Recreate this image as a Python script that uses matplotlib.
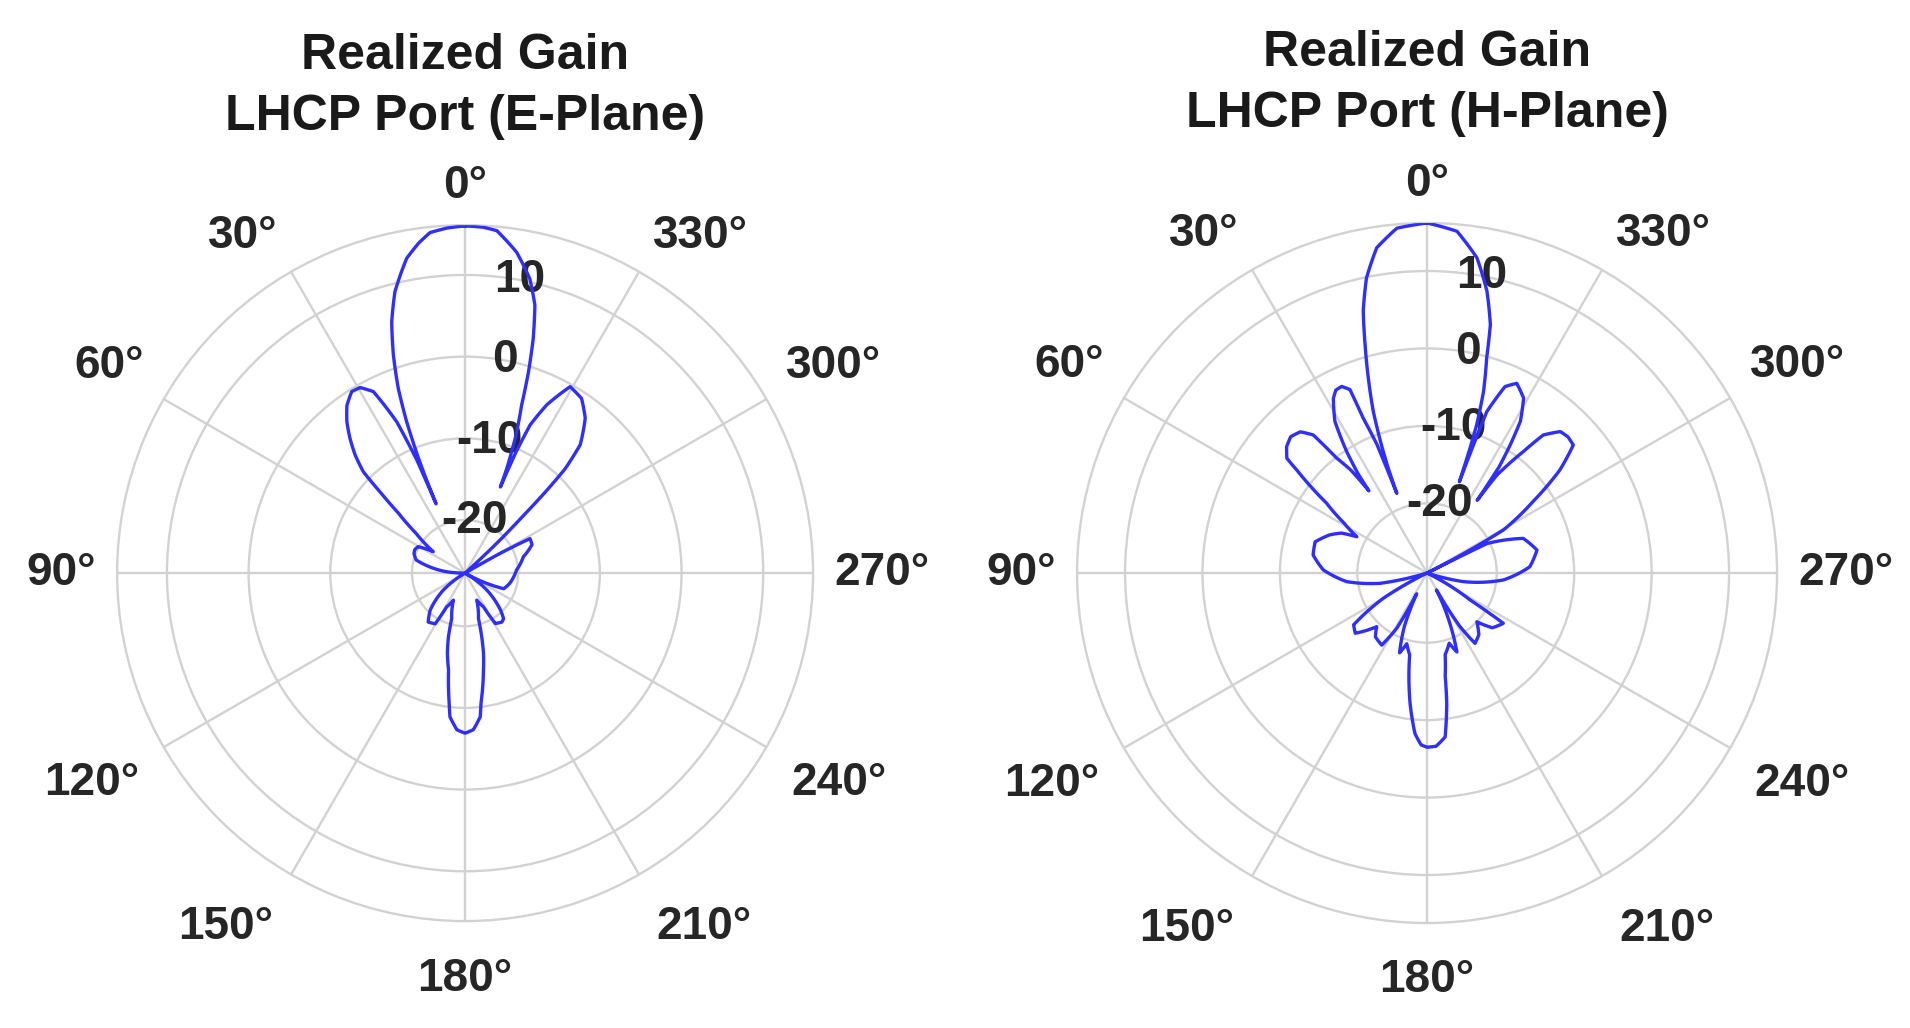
import matplotlib
matplotlib.use("Agg")
import matplotlib.pyplot as plt
import numpy as np

# ------------------------------
# Data
# angles in degrees, counter-clockwise from 0° at the top
# ------------------------------
e_theta = [0, 3, 5.9, 8, 10.5, 14, 16.3, 18.2, 19.9, 21.1,
           22.0, 22.4, 22.7, 23.1, 24.3, 26.8, 29.5, 32, 35.2, 38,
           40.5, 43, 45.1, 46.5, 48, 51, 56, 60.6, 65, 69,
           75, 80, 86, 90, 120, 128, 136.6, 143, 149.5, 151.4,
           156.6, 161, 163.6, 165.3, 167.5, 170.3, 173, 174, 177, 180,
           183, 186, 187, 190.7, 193, 194.7, 196.4, 199, 203.4, 208.6,
           211, 217, 220.2, 224, 232, 240, 244, 248, 257, 273.3,
           285.6, 293, 298, 299.5, 300.5, 312, 313.5, 314.5, 315.3, 316.2,
           318.1, 322.2, 326.3, 330.6, 334.1, 336.3, 337.2, 337.7, 338.3, 339.6,
           341.4, 342.5, 343.8, 345.4, 347.6, 350.9, 354.7, 357, 360]
e_gain = [16.0, 15.8, 15.4, 14.3, 12.7, 9.0, 5.5, 1.6, -2.5, -6.6,
          -10.9, -13.5, -17.3, -11.5, -6.2, -1.6, -0.4, -0.3, -1.4, -3.0,
          -4.8, -6.8, -8.9, -12.5, -15.5, -18.8, -21.8, -19.9, -19.7, -19.8,
          -20.3, -22.1, -24.3, -26.5, -26.5, -23.1, -20.3, -19.0, -19.3, -21.8,
          -22.9, -21.5, -20.7, -18.5, -16.5, -14.5, -10.5, -8.8, -7.3, -6.9,
          -7.3, -8.8, -10.5, -14.4, -16.5, -18.5, -20.7, -21.5, -22.9, -21.8,
          -19.3, -19.0, -19.2, -20.3, -23.1, -26.5, -24.0, -21.4, -20.9, -20.2,
          -19.1, -17.6, -17.5, -22.0, -26.5, -26.5, -20.5, -16.9, -12.5, -8.8,
          -5.4, -2.5, -0.8, -0.3, -3.6, -6.7, -10.5, -15.1, -12.6, -8.9,
          -4.8, -0.7, 3.4, 7.4, 10.4, 13.3, 15.6, 15.9, 16.0]

h_theta = [0, 5.0, 8.8, 11.6, 13.7, 15.2, 16.8, 18.4, 19.6, 20.3,
           20.8, 21.3, 22.4, 22.8, 24.6, 26.5, 28.2, 31.3, 33.5, 34.8,
           35.3, 36.5, 38.2, 39.5, 41.9, 45, 48, 50.7, 51.7, 53.5,
           55.2, 59, 62.7, 65, 68.6, 74.4, 81, 88.3, 96.2, 102.4,
           107, 116, 120, 125.2, 130, 136.8, 141, 147.8, 151.3, 153.5,
           157, 161, 164, 168, 170, 172.6, 175.7, 178, 180, 183,
           186.3, 188.6, 190, 192.5, 197.5, 200.7, 204, 209, 211.5, 214.3,
           220, 225.6, 230, 236.6, 238, 244, 252, 256.6, 264.8, 273.5,
           281.8, 289.8, 296.2, 296.7, 299.4, 304, 307.8, 311.2, 314, 316.7,
           319.9, 321.6, 324.5, 325.4, 325.8, 327, 328.4, 331.1, 334.7, 337.3,
           339.7, 340.0, 340.5, 341.0, 341.5, 342.7, 344.5, 345.7, 348, 351,
           355, 360]
h_gain = [16.2, 15.7, 13.5, 9.9, 5.8, 1.5, -2.8, -7.0, -11.4, -14.5,
          -18.0, -11.2, -7.4, -3.3, -2.5, -2.6, -3.4, -6.1, -10.2, -13.4,
          -16.0, -12.5, -10.1, -5.9, -4.5, -4.1, -4.6, -5.6, -7.6, -10.5,
          -13.2, -16.5, -18.8, -16.8, -15.5, -14.0, -14.1, -15.6, -18.6, -22.8,
          -29.0, -29.0, -22.5, -17.4, -16.9, -19.5, -18.4, -18.0, -20.9, -26.0,
          -21.5, -18.1, -19.5, -18.2, -15.5, -12.0, -8.2, -6.8, -6.5, -6.6,
          -7.7, -12.0, -15.5, -18.2, -19.5, -18.1, -21.5, -26.5, -21.0, -18.0,
          -18.6, -20.0, -18.0, -17.2, -22.5, -29.0, -29.0, -24.2, -19.1, -15.7,
          -14.5, -15.8, -20.4, -29.0, -17.7, -12.5, -7.3, -3.9, -3.7, -3.9,
          -5.7, -9.0, -13.5, -17.6, -12.5, -9.3, -6.0, -3.2, -1.9, -2.9,
          -6.8, -10.5, -16.5, -12.0, -8.8, -4.5, -0.2, 4.1, 8.2, 12.2,
          15.3, 16.2]

titles = ["Realized Gain\nLHCP Port (E-Plane)", "Realized Gain\nLHCP Port (H-Plane)"]
r_limits = [(-26.5, 16.1), (-29.0, 16.2)]
r_ticks = [-20, -10, 0, 10]
theta_ticks = list(range(0, 360, 30))
theta_labels = [f"{t}°" for t in theta_ticks]

# ------------------------------
# Style
# ------------------------------
plt.rcParams["font.family"] = ["Liberation Sans", "DejaVu Sans"]
plt.rcParams["axes.unicode_minus"] = False
line_color = "#2e2eff"
grid_color = "#d2d2d2"
text_color = "#262626"

fig = plt.figure(figsize=(19.1, 10.28), dpi=100)
boxes = [[0.0613, 0.104, 0.3644, 0.677], [0.5639, 0.1021, 0.3665, 0.681]]
patterns = [(e_theta, e_gain), (h_theta, h_gain)]

for box, (th, g), title, rlim in zip(boxes, patterns, titles, r_limits):
    ax = fig.add_axes(box, projection="polar")
    ax.set_theta_zero_location("N")
    ax.set_theta_direction(1)

    line, = ax.plot(np.deg2rad(th), g, color=line_color, linewidth=2.4,
                    solid_joinstyle="round", zorder=3)
    # draw segments as straight in (angle, gain) rather than in x/y
    line.get_path()._interpolation_steps = 12

    ax.set_rlim(*rlim)
    ax.set_rticks(r_ticks)
    ax.set_rlabel_position(349.5)
    ax.set_thetagrids(theta_ticks, theta_labels)

    ax.grid(True, color=grid_color, linewidth=1.7)
    ax.spines["polar"].set_color(grid_color)
    ax.spines["polar"].set_linewidth(1.7)

    ax.tick_params(axis="x", pad=9, labelsize=33, labelcolor=text_color)
    ax.tick_params(axis="y", pad=0, labelsize=33, labelcolor=text_color)
    plt.setp(ax.get_yticklabels(), fontweight="bold", ha="center", va="center")

    # anchor angle labels by their inner edge, like the original plot
    for tick, t in zip(ax.xaxis.get_major_ticks(), theta_ticks):
        if t in (0, 180):
            ha = "center"
        elif t < 180:
            ha = "right"
        else:
            ha = "left"
        if t in (90, 270):
            va, pad = "center", 5
        elif t in (60, 300):
            va, pad = "bottom", 6
        elif t in (120, 240):
            va, pad = "top", 10
        elif t < 90 or t > 270:
            va, pad = "baseline", 9
        else:
            va, pad = "top", 15
        tick.set_pad(pad)
        tick.label1.set_fontweight("bold")
        tick.label1.set_ha(ha)
        tick.label1.set_va(va)

    ax.set_title(title, fontsize=36, fontweight="bold", color="#1a1a1a",
                 y=1.199, pad=0, va="center", linespacing=1.42)

fig.savefig("out.png", dpi=100)
